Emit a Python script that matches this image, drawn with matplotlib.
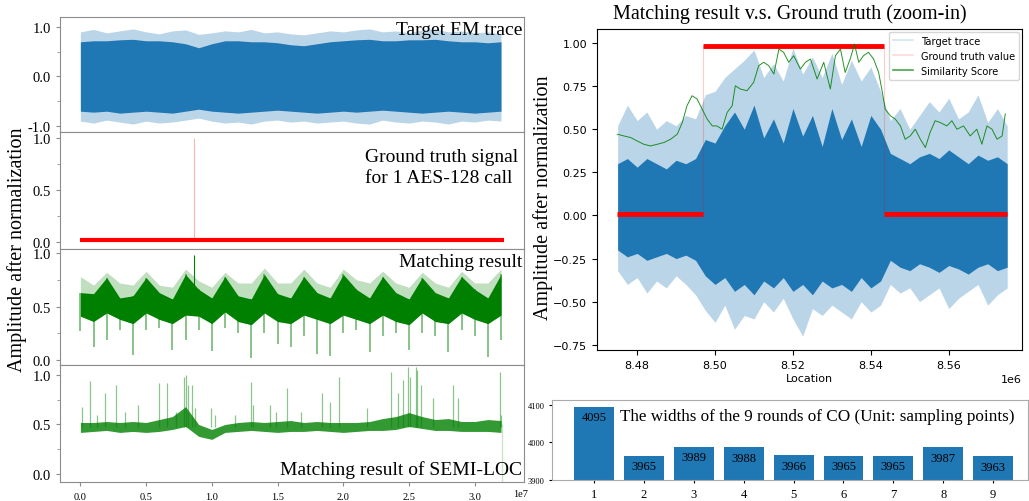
import numpy as np
import matplotlib.pyplot as plt
from matplotlib.lines import Line2D
from matplotlib.ticker import AutoMinorLocator

BLUE = '#1f77b4'
SERIF = ['Liberation Serif', 'DejaVu Serif']
GRAY = '#8c8c8c'

# ---------------- left column (location in units of 1e7) ----------------
trace_x = np.linspace(0.0, 3.2, 33)

em_core_hi = [0.70, 0.72, 0.72, 0.74, 0.75, 0.72, 0.72, 0.70, 0.66, 0.58, 0.66,
              0.72, 0.72, 0.70, 0.70, 0.68, 0.64, 0.62, 0.66, 0.70, 0.72, 0.74,
              0.75, 0.72, 0.72, 0.74, 0.74, 0.75, 0.72, 0.70, 0.70, 0.68, 0.70]
em_core_lo = [-0.70, -0.72, -0.70, -0.74, -0.72, -0.70, -0.72, -0.74, -0.70, -0.66, -0.70,
              -0.72, -0.74, -0.72, -0.70, -0.68, -0.70, -0.72, -0.74, -0.72, -0.70, -0.72,
              -0.70, -0.68, -0.70, -0.72, -0.74, -0.72, -0.70, -0.72, -0.74, -0.72, -0.70]
em_peak_hi = [0.90, 0.95, 0.88, 0.92, 0.96, 0.90, 0.86, 0.92, 0.94, 0.85, 0.88,
              0.92, 0.90, 0.95, 0.88, 0.90, 0.86, 0.84, 0.88, 0.92, 0.90, 0.94,
              0.96, 0.90, 0.92, 0.88, 0.94, 0.96, 0.90, 0.92, 0.88, 0.90, 0.86]
em_peak_lo = [-0.90, -0.94, -0.88, -0.92, -0.96, -0.90, -0.94, -0.92, -0.88, -0.84, -0.90,
              -0.94, -0.92, -0.96, -0.90, -0.88, -0.92, -0.90, -0.94, -0.92, -0.90, -0.94,
              -0.96, -0.88, -0.92, -0.94, -0.90, -0.92, -0.96, -0.90, -0.92, -0.88, -0.90]

gt_start, gt_end = 0.0, 3.22
gt_level = 0.02
gt_call_loc = 0.866
gt_call_value = 1.0

match_core_hi = [0.63, 0.62, 0.77, 0.58, 0.60, 0.77, 0.63, 0.57, 0.80, 0.66, 0.58,
                 0.78, 0.60, 0.57, 0.80, 0.62, 0.58, 0.78, 0.63, 0.58, 0.80, 0.66,
                 0.58, 0.78, 0.63, 0.57, 0.77, 0.63, 0.58, 0.78, 0.66, 0.58, 0.80]
match_core_lo = [0.41, 0.36, 0.44, 0.38, 0.34, 0.44, 0.38, 0.34, 0.42, 0.41, 0.34,
                 0.45, 0.36, 0.33, 0.44, 0.36, 0.34, 0.42, 0.38, 0.34, 0.42, 0.38,
                 0.34, 0.42, 0.36, 0.33, 0.44, 0.36, 0.34, 0.44, 0.38, 0.34, 0.42]
match_peak_hi = [0.78, 0.70, 0.82, 0.72, 0.70, 0.83, 0.70, 0.68, 0.85, 0.74, 0.68,
                 0.82, 0.72, 0.72, 0.86, 0.72, 0.72, 0.85, 0.72, 0.68, 0.85, 0.75,
                 0.72, 0.83, 0.72, 0.68, 0.82, 0.72, 0.68, 0.83, 0.72, 0.72, 0.85]
match_peak_lo = [0.27, 0.12, 0.19, 0.28, 0.05, 0.28, 0.30, 0.09, 0.19, 0.28, 0.08,
                 0.30, 0.25, 0.02, 0.25, 0.15, 0.12, 0.22, 0.06, 0.04, 0.25, 0.28,
                 0.07, 0.22, 0.25, 0.09, 0.25, 0.22, 0.07, 0.28, 0.22, 0.03, 0.19]
match_top_loc, match_top_value = 0.866, 0.98

semi_base_hi = [0.52, 0.52, 0.53, 0.52, 0.53, 0.52, 0.55, 0.58, 0.68, 0.50, 0.45,
                0.50, 0.52, 0.53, 0.52, 0.53, 0.54, 0.52, 0.53, 0.52, 0.52, 0.52,
                0.53, 0.56, 0.58, 0.62, 0.58, 0.55, 0.56, 0.53, 0.53, 0.55, 0.54]
semi_base_lo = [0.42, 0.43, 0.44, 0.42, 0.43, 0.42, 0.43, 0.45, 0.48, 0.38, 0.35,
                0.42, 0.43, 0.44, 0.43, 0.42, 0.43, 0.43, 0.44, 0.43, 0.42, 0.43,
                0.44, 0.44, 0.45, 0.48, 0.46, 0.44, 0.44, 0.43, 0.43, 0.43, 0.42]
semi_spike_loc = [0.013, 0.076, 0.13, 0.185, 0.27, 0.34, 0.435, 0.60, 0.66, 0.73,
                  0.79, 0.80, 0.82, 0.85, 0.87, 0.99, 1.025, 1.18, 1.30, 1.316,
                  1.44, 1.49, 1.57, 1.68, 1.835, 1.90, 1.97, 2.18, 2.36, 2.42,
                  2.455, 2.49, 2.51, 2.55, 2.56, 2.59, 2.68, 2.835, 2.87, 3.19, 3.20]
semi_spike_val = [0.68, 0.94, 0.60, 0.82, 0.90, 0.63, 0.70, 0.92, 0.92, 0.63,
                  0.98, 1.00, 0.90, 0.90, 0.67, 0.67, 0.60, 0.60, 0.93, 0.70,
                  0.70, 0.63, 0.87, 0.63, 0.82, 0.73, 0.98, 0.67, 1.03, 0.82,
                  0.95, 1.08, 0.98, 1.08, 1.05, 0.90, 0.77, 0.90, 0.77, 1.03, 0.60]
semi_end_loc, semi_end_value = 3.21, -0.08

# ---------------- right column (location in units of 1e6) ----------------
zoom_x = np.linspace(8.475, 8.575, 41)
tr_core_hi = [0.30, 0.33, 0.28, 0.33, 0.30, 0.27, 0.32, 0.30, 0.33,
              0.44, 0.42, 0.52, 0.60, 0.50, 0.64, 0.45, 0.56, 0.42, 0.62, 0.46,
              0.58, 0.40, 0.62, 0.44, 0.56, 0.40, 0.58, 0.50,
              0.36, 0.33, 0.30, 0.34, 0.36, 0.33, 0.38, 0.34, 0.30, 0.35, 0.32, 0.34, 0.30]
tr_peak_hi = [0.52, 0.64, 0.55, 0.60, 0.50, 0.55, 0.52, 0.58, 0.56,
              0.70, 0.72, 0.80, 0.85, 0.90, 0.96, 0.80, 0.88, 0.78, 0.97, 0.82,
              0.92, 0.80, 0.94, 0.76, 0.90, 0.78, 0.86, 0.72,
              0.55, 0.62, 0.50, 0.58, 0.66, 0.60, 0.68, 0.56, 0.60, 0.70, 0.54, 0.62, 0.52]
tr_core_lo = [-0.20, -0.24, -0.22, -0.26, -0.24, -0.22, -0.25, -0.23, -0.26,
              -0.35, -0.40, -0.36, -0.44, -0.40, -0.46, -0.38, -0.42, -0.36, -0.44, -0.40,
              -0.46, -0.38, -0.42, -0.40, -0.44, -0.36, -0.42, -0.38,
              -0.26, -0.30, -0.32, -0.28, -0.30, -0.33, -0.29, -0.31, -0.34, -0.30, -0.28, -0.32, -0.30]
tr_peak_lo = [-0.32, -0.40, -0.36, -0.45, -0.38, -0.42, -0.35, -0.40, -0.46,
              -0.55, -0.62, -0.52, -0.66, -0.58, -0.60, -0.50, -0.56, -0.48, -0.60, -0.70,
              -0.54, -0.58, -0.52, -0.56, -0.60, -0.50, -0.56, -0.52,
              -0.40, -0.45, -0.42, -0.50, -0.46, -0.42, -0.54, -0.48, -0.44, -0.40, -0.52, -0.46, -0.42]

gt_edges = [8.4749, 8.4968, 8.5433, 8.5749]
gt_levels = [0.01, 0.98, 0.01]

sim_x = [8.4749, 8.4766, 8.4783, 8.4800, 8.4817, 8.4834, 8.4852, 8.4869, 8.4886, 8.4903,
         8.4916, 8.4928, 8.4941, 8.4954, 8.4967, 8.4980, 8.4993, 8.5005, 8.5018, 8.5031,
         8.5044, 8.5052, 8.5065, 8.5082, 8.5099, 8.5112, 8.5125, 8.5138, 8.5151, 8.5164,
         8.5176, 8.5189, 8.5202, 8.5219, 8.5232, 8.5245, 8.5262, 8.5279, 8.5296, 8.5309,
         8.5322, 8.5334, 8.5347, 8.5358, 8.5369, 8.5381, 8.5394, 8.5407, 8.5420, 8.5428,
         8.5437, 8.5450, 8.5463, 8.5476, 8.5488, 8.5501, 8.5514, 8.5527, 8.5540, 8.5552,
         8.5565, 8.5578, 8.5595, 8.5608, 8.5621, 8.5638, 8.5655, 8.5672, 8.5685, 8.5698,
         8.5711, 8.5724, 8.5737, 8.5745]
sim_y = [0.471, 0.461, 0.452, 0.432, 0.413, 0.403, 0.413, 0.423, 0.442, 0.471,
         0.539, 0.636, 0.694, 0.675, 0.616, 0.558, 0.519, 0.519, 0.500, 0.597,
         0.636, 0.752, 0.733, 0.723, 0.771, 0.868, 0.888, 0.868, 0.820, 0.965,
         0.946, 0.888, 0.926, 0.849, 0.888, 0.907, 0.791, 0.888, 0.733, 0.926,
         0.965, 0.829, 0.907, 0.994, 0.888, 0.926, 0.946, 0.907, 0.829, 0.733,
         0.616, 0.578, 0.558, 0.519, 0.442, 0.461, 0.500, 0.442, 0.394, 0.481,
         0.549, 0.539, 0.519, 0.549, 0.500, 0.519, 0.461, 0.500, 0.413, 0.519,
         0.500, 0.442, 0.461, 0.588]

rounds = [1, 2, 3, 4, 5, 6, 7, 8, 9]
round_widths = [4095, 3965, 3989, 3988, 3966, 3965, 3965, 3987, 3963]

# ---------------------------------------------------------------------------
fig = plt.figure(figsize=(10.29, 5.02), dpi=100)
W, H = 1029, 502


def px_axes(left, top, right, bottom):
    return fig.add_axes([left / W, 1 - bottom / H, (right - left) / W, (bottom - top) / H])


rows = [(18, 133), (133, 250), (250, 366), (366, 483)]
left_axes = [px_axes(60, t, 524, b) for t, b in rows]
xs = trace_x * 1e7

for ax in left_axes:
    for s in ax.spines.values():
        s.set_color(GRAY)
    ax.tick_params(colors=GRAY, labelcolor='black', labelsize=10.5,
                   labelfontfamily='Liberation Serif', length=3)
    ax.tick_params(which='minor', colors=GRAY, length=2)
    ax.set_xlim(-0.155e7, 3.375e7)
    ax.yaxis.set_minor_locator(AutoMinorLocator(2))

for ax in left_axes[:3]:
    ax.tick_params(axis='x', bottom=False, labelbottom=False)

ax1, ax2, ax3, ax4 = left_axes

# target EM trace
ax1.fill_between(xs, em_peak_lo, em_peak_hi, color=BLUE, alpha=0.3, lw=0)
ax1.fill_between(xs, em_core_lo, em_core_hi, color=BLUE, lw=0)
ax1.set_ylim(-1.12, 1.2)
ax1.set_yticks([-1, 0, 1], ['-1.0', '0.0', '1.0'])
ax1.text(0.996, 0.852, 'Target EM trace', transform=ax1.transAxes, ha='right',
         va='baseline', family=SERIF, fontsize=14)

# ground truth
ax2.vlines(gt_call_loc * 1e7, gt_level, gt_call_value, color='red', alpha=0.3, lw=0.8)
ax2.hlines(gt_level, gt_start * 1e7, gt_end * 1e7, color='red', lw=3)
ax2.set_ylim(-0.067, 1.058)
ax2.set_yticks([0, 0.5, 1.0])
ax2.text(0.657, 0.752, 'Ground truth signal', transform=ax2.transAxes, ha='left',
         va='baseline', family=SERIF, fontsize=14)
ax2.text(0.657, 0.573, 'for 1 AES-128 call', transform=ax2.transAxes, ha='left',
         va='baseline', family=SERIF, fontsize=14)

# matching result
ax3.fill_between(xs, match_core_lo, match_peak_hi, color='green', alpha=0.25, lw=0)
ax3.vlines(xs, match_peak_lo, match_core_hi, color='green', alpha=0.55, lw=1.2)
ax3.fill_between(xs, match_core_lo, match_core_hi, color='green', lw=0)
ax3.vlines(match_top_loc * 1e7, 0.5, match_top_value, color='green', lw=0.8)
ax3.set_ylim(-0.047, 1.038)
ax3.set_yticks([0, 0.5, 1.0])
ax3.text(0.996, 0.853, 'Matching result', transform=ax3.transAxes, ha='right',
         va='baseline', family=SERIF, fontsize=14)

# SEMI-LOC
ax4.vlines(np.array(semi_spike_loc) * 1e7, 0.47, semi_spike_val, color='green', alpha=0.45, lw=0.9)
ax4.vlines(semi_end_loc * 1e7, semi_end_value, 0.5, color='green', alpha=0.2, lw=1.0)
ax4.fill_between(xs, semi_base_lo, semi_base_hi, color='green', alpha=0.8, lw=0)
ax4.set_ylim(-0.08, 1.10)
ax4.set_yticks([0, 0.5, 1.0])
ax4.set_xticks([0, 0.5e7, 1e7, 1.5e7, 2e7, 2.5e7, 3e7],
               ['0.0', '0.5', '1.0', '1.5', '2.0', '2.5', '3.0'])
ax4.tick_params(axis='x', labelsize=7.5, pad=4)
ax4.text(0.996, 0.068, 'Matching result of SEMI-LOC', transform=ax4.transAxes, ha='right',
         va='baseline', family=SERIF, fontsize=14)
fig.text(513 / W, 1 - 495 / H, '1e7', ha='left', va='center', family=SERIF, fontsize=7.5)

fig.text(17 / W, 1 - 250 / H, 'Amplitude after normalization', rotation=90,
         ha='center', va='center', family=SERIF, fontsize=14.5)

# ---------------- zoom-in panel ----------------
axr = px_axes(597, 30, 1022, 351)
zx = zoom_x * 1e6
axr.fill_between(zx, tr_peak_lo, tr_peak_hi, color=BLUE, alpha=0.3, lw=0)
axr.fill_between(zx, tr_core_lo, tr_core_hi, color=BLUE, lw=0)
step_x = [gt_edges[0], gt_edges[1], gt_edges[1], gt_edges[2], gt_edges[2], gt_edges[3]]
step_y = [gt_levels[0], gt_levels[0], gt_levels[1], gt_levels[1], gt_levels[2], gt_levels[2]]
axr.plot(np.array(step_x) * 1e6, step_y, color='red', alpha=0.2, lw=0.8)
axr.hlines(gt_levels, np.array(gt_edges[:-1]) * 1e6, np.array(gt_edges[1:]) * 1e6,
           color='red', lw=3.5)
axr.plot(np.array(sim_x) * 1e6, sim_y, color='green', lw=0.7, alpha=0.85)
axr.set_xlim(8.4697e6, 8.5788e6)
axr.set_ylim(-0.78, 1.081)
axr.set_yticks([-0.75, -0.5, -0.25, 0, 0.25, 0.5, 0.75, 1.0])
axr.set_xticks([8.48e6, 8.50e6, 8.52e6, 8.54e6, 8.56e6])
axr.tick_params(labelsize=8)
axr.xaxis.get_offset_text().set_fontsize(8)
axr.set_xlabel('Location', fontsize=8, labelpad=2)
handles = [Line2D([], [], color=BLUE, alpha=0.2, lw=1.2),
           Line2D([], [], color='red', alpha=0.15, lw=1.2),
           Line2D([], [], color='green', alpha=0.7, lw=1.2)]
axr.legend(handles, ['Target trace', 'Ground truth value', 'Similarity Score'],
           loc='upper right', fontsize=7.1, borderaxespad=0.3)
fig.text(790 / W, 1 - 14 / H, 'Matching result v.s. Ground truth (zoom-in)',
         ha='center', va='center', family=SERIF, fontsize=14.5)
fig.text(543 / W, 1 - 198 / H, 'Amplitude after normalization', rotation=90,
         ha='center', va='center', family=SERIF, fontsize=14.5)

# ---------------- round widths ----------------
axb = px_axes(552, 401, 1028, 481)
bars = axb.bar(rounds, round_widths, width=0.8, color=BLUE)
axb.bar_label(bars, padding=-12, family=SERIF, fontsize=9)
axb.set_ylim(3900, 4113)
axb.set_xlim(0.156, 9.70)
axb.set_yticks([3900, 4000, 4100])
axb.set_xticks(rounds)
for s in axb.spines.values():
    s.set_color('#aaaaaa')
axb.tick_params(axis='y', labelsize=6, labelfontfamily='Liberation Serif', length=2)
axb.tick_params(axis='x', labelsize=9, labelfontfamily='Liberation Serif', length=2)
axb.text(1.52, 4060, 'The widths of the 9 rounds of CO (Unit: sampling points)',
         ha='left', va='baseline', family=SERIF, fontsize=12.3)

fig.savefig('out.png', dpi=100)
